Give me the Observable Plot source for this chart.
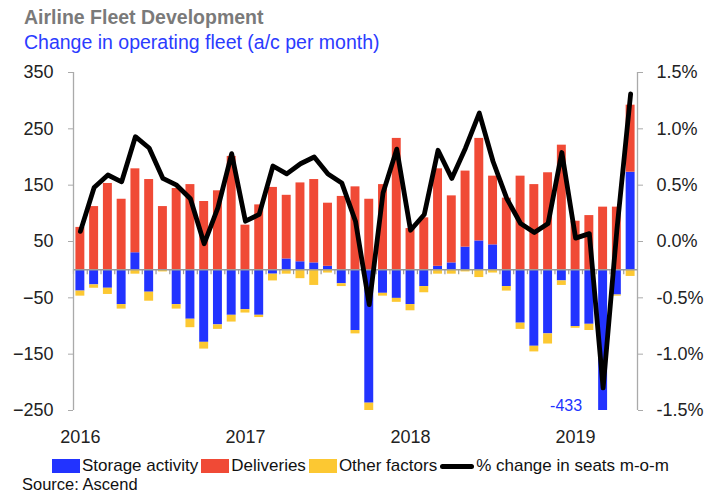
<!DOCTYPE html>
<html><head><meta charset="utf-8">
<script src="https://cdn.jsdelivr.net/npm/d3@7"></script>
<script src="https://cdn.jsdelivr.net/npm/@observablehq/plot@0.6"></script>
<style>
body{margin:0;background:#fff;}
#wrap{position:relative;width:710px;height:493px;overflow:hidden;font-family:"Liberation Sans",Arial,sans-serif;}
.title{position:absolute;left:24px;top:7px;font-size:19.5px;font-weight:bold;color:#7a7a7a;line-height:21px;white-space:nowrap;}
.sub{position:absolute;left:24px;top:31px;font-size:19.5px;color:#2b3bff;line-height:22px;white-space:nowrap;}
#chart{position:absolute;left:0;top:56px;}
.leg{position:absolute;left:52px;top:457px;height:18px;display:flex;align-items:center;font-family:"Liberation Sans Narrow","Liberation Sans",sans-serif;font-size:17px;color:#111;white-space:nowrap;}
.sw{display:inline-block;width:28px;height:14px;margin-right:2px;}
.ln{display:inline-block;width:34px;height:5px;background:#000;border-radius:3px;margin-right:2px;}
.item{display:flex;align-items:center;margin-right:3px;}
.src{position:absolute;left:22px;top:476px;line-height:16px;font-family:"Liberation Sans Narrow","Liberation Sans",sans-serif;font-size:16.5px;color:#111;white-space:nowrap;}
</style></head>
<body>
<div id="wrap">
  <div class="title">Airline Fleet Development</div>
  <div class="sub">Change in operating fleet (a/c per month)</div>
  <div id="chart"></div>
  <div class="leg" id="legend"></div>
  <div class="src">Source: Ascend</div>
</div>
<script>
// Categories: months Jan 2016 – May 2019
const months = d3.utcMonths(new Date(Date.UTC(2016,0,1)), new Date(Date.UTC(2019,5,1))).map(d3.utcFormat("%Y-%m"));
const seriesNames = ["Storage activity", "Deliveries", "Other factors"];
const seriesColors = ["#2233ff", "#f04a36", "#fcc832"];
const lineName = "% change in seats m-o-m";

// Aircraft per month
const storage = [-38,-27,-33,-62,30,-40,0,-62,-88,-129,-98,-81,
                 -71,-81,-8,19,14,12,6,-25,-108,-237,-42,-51,
                 -62,-30,6,12,40,51,44,-30,-95,-136,-114,-20,
                 -101,-97,-433,-45,173];
const deliveries = [75,112,153,125,149,160,112,144,151,121,140,201,
                    79,115,146,113,140,148,112,130,147,125,151,233,
                    73,92,173,119,135,182,122,127,166,151,172,221,
                    86,96,111,111,119];
const other = [-9,-6,-11,-8,-8,-16,-4,-8,-15,-12,-8,-12,
               -6,-4,-12,-8,-16,-28,-6,-5,-6,-13,-5,-7,
               -11,-11,-8,-8,-4,-14,-6,-8,-11,-10,-18,-8,
               -3,-11,-5,-2,-12];
// % change in seats m-o-m
const seats = [0.09,0.48,0.59,0.53,0.93,0.83,0.56,0.50,0.38,-0.02,0.30,0.78,
               0.18,0.24,0.67,0.60,0.69,0.75,0.60,0.52,0.18,-0.56,0.43,0.82,
               0.10,0.24,0.81,0.56,0.83,1.14,0.71,0.38,0.16,0.08,0.16,0.79,
               0.03,0.07,-1.30,0.10,1.31];

// Axes
const yDomain = [-250, 350];
const yTicks = [-250, -150, -50, 50, 150, 250, 350];
const pctDomain = [-1.5, 1.5];
const yearTicks = ["2016-01","2017-01","2018-01","2019-01"];

// Map % onto the left scale (right axis shares the same scale)
const pctToY = p => yDomain[0] + (p - pctDomain[0]) * (yDomain[1]-yDomain[0]) / (pctDomain[1]-pctDomain[0]);
const yToPct = v => pctDomain[0] + (v - yDomain[0]) * (pctDomain[1]-pctDomain[0]) / (yDomain[1]-yDomain[0]);

const values = [storage, deliveries, other];
const bars = months.flatMap((m, i) => seriesNames.map((s, k) => ({month: m, series: s, value: values[k][i]})));
const lineData = months.map((m, i) => ({month: m, pct: seats[i]}));
const offscale = months.map((m, i) => ({month: m, value: storage[i]})).filter(d => d.value < yDomain[0]);

const W = 710, H = 392, mL = 73, mR = 73, mT = 16, mB = 38;
const step = (W - mL - mR) / months.length;
const fontFam = '"Liberation Sans", Arial, sans-serif';

const chart = Plot.plot({
  width: W, height: H,
  marginLeft: mL, marginRight: mR, marginTop: mT, marginBottom: mB,
  style: {fontFamily: fontFam, fontSize: "18px", color: "#222", background: "#fff", overflow: "visible"},
  x: {domain: months, paddingInner: 0.35, paddingOuter: 0.175, axis: null, label: null},
  y: {domain: yDomain, axis: null, label: null},
  color: {domain: seriesNames, range: seriesColors},
  marks: [
    Plot.barY(bars, {x: "month", y: "value", fill: "series", clip: true}),
    Plot.ruleY([0], {stroke: "#9a9a9a", strokeWidth: 1.5}),
    Plot.ruleX(months, {x: d => d, y1: 0, y2: 0, insetBottom: -5, dx: -step/2, stroke: "#9a9a9a", strokeWidth: 1.2}),
    Plot.ruleX([months[0]], {x: d => d, y1: yDomain[0], y2: yDomain[1], dx: -step/2, stroke: "#aaa", strokeWidth: 1.3}),
    Plot.ruleX([months[months.length-1]], {x: d => d, y1: yDomain[0], y2: yDomain[1], dx: step/2, stroke: "#aaa", strokeWidth: 1.3}),
    Plot.axisY({anchor: "left", label: null, ticks: yTicks, tickSize: 5, tickPadding: 15, stroke: "#aaa", fill: "#222", fontSize: 18}),
    Plot.axisY({anchor: "right", label: null, ticks: yTicks, tickSize: 5, tickPadding: 14, stroke: "#aaa", fill: "#222", fontSize: 18,
      tickFormat: v => yToPct(v).toFixed(1) + "%"}),
    Plot.axisX({label: null, ticks: yearTicks, tickSize: 0, tickPadding: 20, fill: "#222", fontSize: 18, tickFormat: m => m.slice(0,4)}),
    Plot.line(lineData, {x: "month", y: d => pctToY(d.pct), stroke: "#000", strokeWidth: 4.8, strokeLinejoin: "round", strokeLinecap: "round"}),
    Plot.text(offscale, {x: "month", y: () => yDomain[0], text: d => String(d.value), dx: -21, dy: -5, textAnchor: "end", fill: "#2233ff", fontSize: 16})
  ]
});
document.getElementById("chart").appendChild(chart);

// Legend
const leg = document.getElementById("legend");
seriesNames.forEach((s, k) => {
  const it = document.createElement("span"); it.className = "item";
  const sw = document.createElement("span"); sw.className = "sw"; sw.style.background = seriesColors[k];
  it.appendChild(sw); it.appendChild(document.createTextNode(s)); leg.appendChild(it);
});
const it = document.createElement("span"); it.className = "item";
const ln = document.createElement("span"); ln.className = "ln";
it.appendChild(ln); it.appendChild(document.createTextNode(lineName)); leg.appendChild(it);
</script>
</body></html>
